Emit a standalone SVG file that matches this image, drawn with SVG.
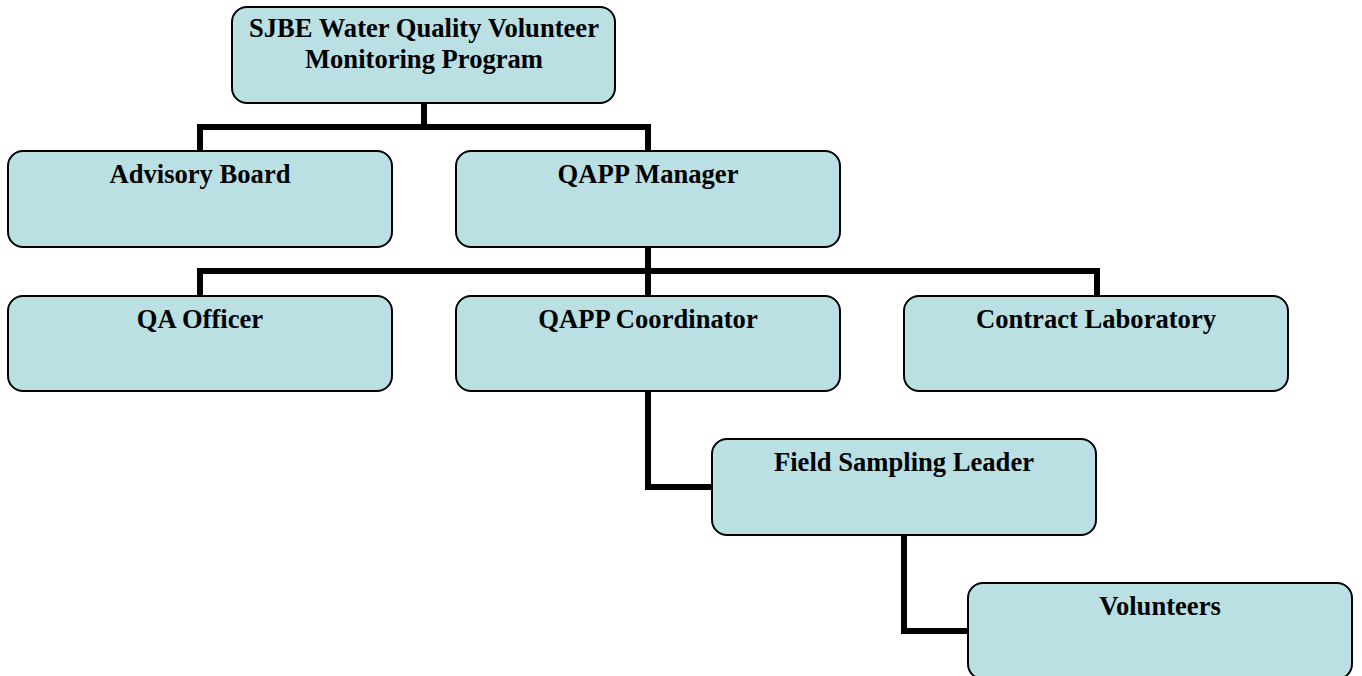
<svg xmlns="http://www.w3.org/2000/svg" width="1362" height="676" viewBox="0 0 1362 676">
<style>
.box{fill:#BAE0E3;stroke:#000;stroke-width:2}
.lbl{font-family:"Liberation Serif","Times New Roman",serif;font-weight:bold;font-size:26.6px;fill:#000;text-anchor:middle}
.con{fill:none;stroke:#000;stroke-width:6;stroke-linejoin:miter;stroke-linecap:butt}
</style>
<rect width="1362" height="676" fill="#fff"/>
<g id="connectors">
<polyline class="con" points="424,103 424,127"/>
<polyline class="con" points="200,152 200,127 648,127 648,152"/>
<polyline class="con" points="648,247 648,271"/>
<polyline class="con" points="200,296 200,271 1097,271 1097,296"/>
<polyline class="con" points="648,271 648,296"/>
<polyline class="con" points="648,391 648,487 712,487"/>
<polyline class="con" points="904,535 904,631 968,631"/>
</g>
<g id="n-top">
<rect class="box" x="232" y="7" width="383" height="96" rx="15"/>
<text class="lbl" x="424" y="37">SJBE Water Quality Volunteer</text>
<text class="lbl" x="424" y="68">Monitoring Program</text>
</g>
<g id="n-advisory">
<rect class="box" x="8" y="151" width="384" height="96" rx="15"/>
<text class="lbl" x="200" y="183">Advisory Board</text>
</g>
<g id="n-manager">
<rect class="box" x="456" y="151" width="384" height="96" rx="15"/>
<text class="lbl" x="648" y="183">QAPP Manager</text>
</g>
<g id="n-qa">
<rect class="box" x="8" y="296" width="384" height="95" rx="15"/>
<text class="lbl" x="200" y="328">QA Officer</text>
</g>
<g id="n-coord">
<rect class="box" x="456" y="296" width="384" height="95" rx="15"/>
<text class="lbl" x="648" y="328">QAPP Coordinator</text>
</g>
<g id="n-lab">
<rect class="box" x="904" y="296" width="384" height="95" rx="15"/>
<text class="lbl" x="1096" y="328">Contract Laboratory</text>
</g>
<g id="n-field">
<rect class="box" x="712" y="439" width="384" height="96" rx="15"/>
<text class="lbl" x="904" y="471">Field Sampling Leader</text>
</g>
<g id="n-vol">
<rect class="box" x="968" y="583" width="384" height="96" rx="15"/>
<text class="lbl" x="1160" y="615">Volunteers</text>
</g>
</svg>
